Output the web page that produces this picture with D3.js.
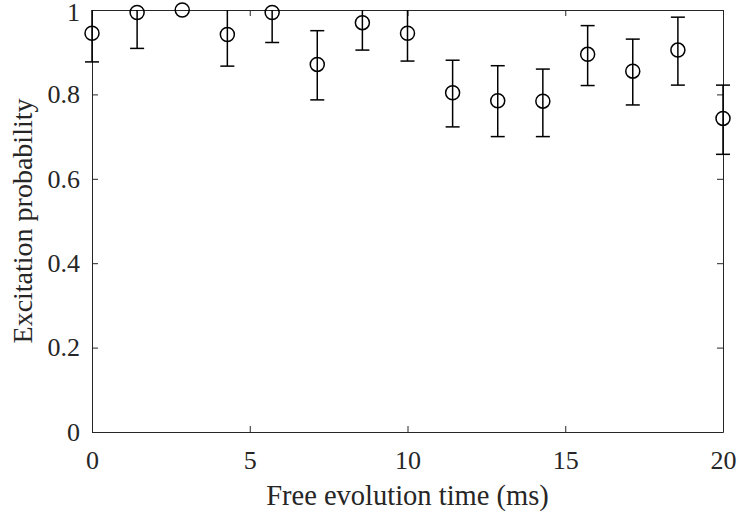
<!DOCTYPE html>
<html>
<head>
<meta charset="utf-8">
<script src="https://cdn.jsdelivr.net/npm/d3@7"></script>
<style>
  body { margin: 0; background: #fff; }
  svg text { font-family: "Liberation Serif", "Times New Roman", serif; fill: #262626; }
</style>
</head>
<body>
<svg id="chart" width="739" height="516"></svg>
<script>
// measured points: free evolution time (ms) and excitation probability
let times = [0, 1.43, 2.86, 4.29, 5.71, 7.14, 8.57, 10, 11.43, 12.86, 14.29, 15.71, 17.14, 18.57, 20];
let probs = [0.945, 0.994, 1.0, 0.942, 0.994, 0.871, 0.970, 0.945, 0.804, 0.785, 0.784, 0.895, 0.855, 0.905, 0.743];
let errLow = [0.068, 0.085, 0, 0.075, 0.071, 0.084, 0.065, 0.066, 0.081, 0.085, 0.084, 0.074, 0.080, 0.083, 0.085];
let errHigh = [0.068, 0.085, 0, 0.075, 0.071, 0.080, 0.065, 0.066, 0.077, 0.083, 0.076, 0.068, 0.076, 0.078, 0.079];

let xTicks = [0, 5, 10, 15, 20];
let yTicks = [0, 0.2, 0.4, 0.6, 0.8, 1];

let svg = d3.select('#chart');
let margins = {left: 92, right: 16, top: 10, bottom: 84};
let width = 739, height = 516;

let xScale = d3.scaleLinear().domain([0, 20]).range([margins.left, width - margins.right]);
let yScale = d3.scaleLinear().domain([0, 1]).range([height - margins.bottom, margins.top]);

let data = times.map(function(t, i){
    return {t: t, p: probs[i], lo: probs[i] - errLow[i], hi: probs[i] + errHigh[i]};
});

// clip error bars to the axes box (vertically)
svg.append('defs').append('clipPath').attr('id', 'plotClip')
    .append('rect')
    .attr('x', xScale(0) - 10).attr('y', yScale(1))
    .attr('width', xScale(20) - xScale(0) + 20)
    .attr('height', yScale(0) - yScale(1));

let axisColor = '#262626';
let tickLen = 6;

// axes box with inward ticks on all sides
function styleAxis(g){
    g.select('.domain').attr('stroke', axisColor).attr('stroke-width', 1);
    g.selectAll('.tick line').attr('stroke', axisColor).attr('stroke-width', 1);
    g.selectAll('.tick text').style('font-size', '26px').attr('fill', axisColor);
}

svg.append('g')
    .attr('transform', 'translate(0,' + yScale(0) + ')')
    .call(d3.axisBottom(xScale).tickValues(xTicks).tickSizeInner(-tickLen).tickSizeOuter(0).tickPadding(19))
    .call(styleAxis);
svg.append('g')
    .attr('transform', 'translate(0,' + yScale(1) + ')')
    .call(d3.axisTop(xScale).tickValues(xTicks).tickSizeInner(-tickLen).tickSizeOuter(0).tickFormat(''))
    .call(styleAxis);
svg.append('g')
    .attr('transform', 'translate(' + xScale(0) + ',0)')
    .call(d3.axisLeft(yScale).tickValues(yTicks).tickSizeInner(-tickLen).tickSizeOuter(0).tickPadding(12).tickFormat(d3.format('~g')))
    .call(styleAxis)
    .selectAll('.tick text')
        // top label sits a little lower so it stays inside the page
        .filter(function(d){ return d === 1; })
        .attr('dy', '0.42em');
svg.append('g')
    .attr('transform', 'translate(' + xScale(20) + ',0)')
    .call(d3.axisRight(yScale).tickValues(yTicks).tickSizeInner(-tickLen).tickSizeOuter(0).tickFormat(''))
    .call(styleAxis);

// error bars and markers
let marks = svg.append('g').attr('clip-path', 'url(#plotClip)');
let capHalf = 7;

let bars = marks.selectAll('g.err')
    .data(data.filter(function(d){ return d.hi > d.lo; }))
    .enter()
    .append('g')
    .attr('class', 'err')
    .attr('stroke', '#000')
    .attr('stroke-width', 1.5);
bars.append('line')
    .attr('x1', function(d){ return xScale(d.t); })
    .attr('x2', function(d){ return xScale(d.t); })
    .attr('y1', function(d){ return yScale(d.lo); })
    .attr('y2', function(d){ return yScale(d.hi); });
bars.append('line')
    .attr('x1', function(d){ return xScale(d.t) - capHalf; })
    .attr('x2', function(d){ return xScale(d.t) + capHalf; })
    .attr('y1', function(d){ return yScale(d.lo); })
    .attr('y2', function(d){ return yScale(d.lo); });
bars.append('line')
    .attr('x1', function(d){ return xScale(d.t) - capHalf; })
    .attr('x2', function(d){ return xScale(d.t) + capHalf; })
    .attr('y1', function(d){ return yScale(d.hi); })
    .attr('y2', function(d){ return yScale(d.hi); });

svg.selectAll('circle.pt')
    .data(data)
    .enter()
    .append('circle')
    .attr('class', 'pt')
    .attr('cx', function(d){ return xScale(d.t); })
    .attr('cy', function(d){ return yScale(d.p); })
    .attr('r', 7)
    .attr('fill', 'none')
    .attr('stroke', '#000')
    .attr('stroke-width', 1.5);

// axis labels
svg.append('text')
    .attr('x', (xScale(0) + xScale(20)) / 2)
    .attr('y', 505)
    .style('text-anchor', 'middle')
    .style('font-size', '28.5px')
    .text('Free evolution time (ms)');
svg.append('text')
    .attr('transform', 'rotate(-90)')
    .attr('x', -(yScale(0) + yScale(1)) / 2)
    .attr('y', 32)
    .style('text-anchor', 'middle')
    .style('font-size', '28px')
    .text('Excitation probability');
</script>
</body>
</html>
